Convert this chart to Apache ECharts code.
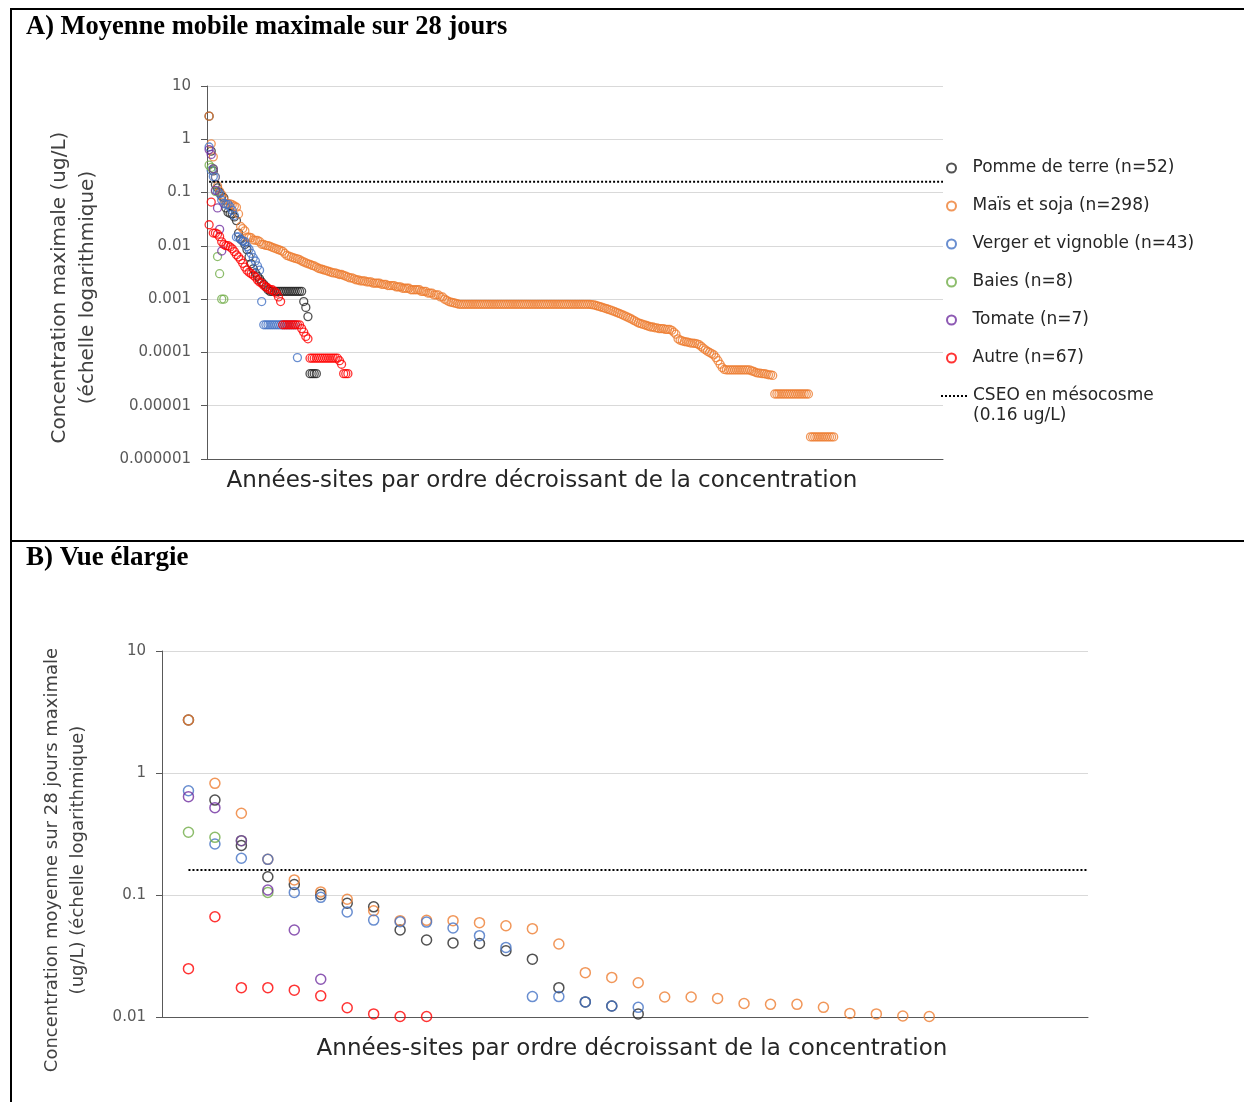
<!DOCTYPE html>
<html><head><meta charset="utf-8">
<script src="https://cdn.jsdelivr.net/npm/echarts@6/dist/echarts.min.js"></script>
<style>html,body{margin:0;padding:0;background:#fff}#c{width:1244px;height:1102px}</style>
</head><body><div id="c"></div>
<script>
// ---------- DATA ----------
const seriesNames = ['Pomme de terre (n=52)', 'Maïs et soja (n=298)', 'Verger et vignoble (n=43)', 'Baies (n=8)', 'Tomate (n=7)', 'Autre (n=67)'];
const cseoName = 'CSEO en mésocosme\n(0.16 ug/L)';
const cseoValue = 0.16;
const titleA = 'A) Moyenne mobile maximale sur 28 jours';
const titleB = 'B) Vue élargie';
const xTitle = 'Années-sites par ordre décroissant de la concentration';
const yTitleA = 'Concentration maximale (ug/L)\n(échelle logarithmique)';
const yTitleB = 'Concentration moyenne sur 28 jours maximale\n(ug/L) (échelle logarithmique)';
// tick labels, indexed by exponent + 6
const yTickLabels = ['0.000001', '0.00001', '0.0001', '0.001', '0.01', '0.1', '1', '10'];

const pommeDeTerre = [
  2.72, 0.6, 0.255, 0.141, 0.122, 0.101, 0.0855, 0.08, 0.0516, 0.0428,
  0.0405, 0.040, 0.0349, 0.0298, 0.0174, 0.0133, 0.0123, 0.0106, 0.0085, 0.0062,
  0.0046, 0.0037, 0.0031, 0.0027, 0.0024, 0.0021, 0.0019, 0.0017, 0.0015, 0.0014,
  0.0014, 0.0014, 0.0014, 0.0014, 0.0014, 0.0014, 0.0014, 0.0014, 0.0014, 0.0014,
  0.0014, 0.0014, 0.0014, 0.0014, 0.0014, 0.0009, 0.0007, 0.00047, 0.00004, 0.00004,
  0.00004, 0.00004
];
const maisSoja = [
  2.72, 0.823, 0.468, 0.196, 0.133, 0.106, 0.0923, 0.0743, 0.0616, 0.062,
  0.0616, 0.0593, 0.056, 0.053, 0.0397, 0.0231, 0.0211, 0.0191, 0.0146, 0.0146,
  0.0142, 0.0129, 0.0127, 0.0127, 0.012, 0.0107, 0.0106, 0.0102, 0.0101, 0.0098,
  0.0094, 0.0091, 0.0088, 0.0085, 0.0082, 0.0079, 0.0072, 0.0066, 0.0064, 0.0062,
  0.006, 0.0058, 0.0057, 0.0055, 0.0052, 0.005, 0.0048, 0.0046, 0.0045, 0.0043,
  0.0042, 0.004, 0.0038, 0.0037, 0.0036, 0.0035, 0.0034, 0.0033, 0.0032, 0.0031,
  0.0031, 0.003, 0.0029, 0.0029, 0.0028, 0.0027, 0.0026, 0.0025, 0.0025, 0.0024,
  0.0023, 0.0023, 0.0022, 0.0022, 0.0022, 0.0021, 0.0021, 0.0021, 0.002, 0.002,
  0.002, 0.002, 0.0019, 0.0019, 0.0019, 0.0018, 0.0018, 0.0018, 0.0018, 0.0017,
  0.0017, 0.0017, 0.0016, 0.0016, 0.0016, 0.0016, 0.0015, 0.0015, 0.0015, 0.0015,
  0.0015, 0.0014, 0.0014, 0.0014, 0.0013, 0.0013, 0.0013, 0.0012, 0.0012, 0.0012,
  0.0011, 0.0011, 0.001, 0.00095, 0.0009, 0.00088, 0.00086, 0.00084, 0.00082, 0.0008,
  0.0008, 0.0008, 0.0008, 0.0008, 0.0008, 0.0008, 0.0008, 0.0008, 0.0008, 0.0008,
  0.0008, 0.0008, 0.0008, 0.0008, 0.0008, 0.0008, 0.0008, 0.0008, 0.0008, 0.0008,
  0.0008, 0.0008, 0.0008, 0.0008, 0.0008, 0.0008, 0.0008, 0.0008, 0.0008, 0.0008,
  0.0008, 0.0008, 0.0008, 0.0008, 0.0008, 0.0008, 0.0008, 0.0008, 0.0008, 0.0008,
  0.0008, 0.0008, 0.0008, 0.0008, 0.0008, 0.0008, 0.0008, 0.0008, 0.0008, 0.0008,
  0.0008, 0.0008, 0.0008, 0.0008, 0.0008, 0.0008, 0.0008, 0.0008, 0.0008, 0.0008,
  0.0008, 0.0008, 0.00079, 0.00078, 0.00076, 0.00074, 0.00072, 0.0007, 0.00068, 0.00066,
  0.00064, 0.00062, 0.0006, 0.00058, 0.00056, 0.00054, 0.00052, 0.0005, 0.00048, 0.00046,
  0.00044, 0.00042, 0.0004, 0.00038, 0.00036, 0.00035, 0.00034, 0.00033, 0.00032, 0.00031,
  0.0003, 0.0003, 0.00029, 0.00029, 0.00028, 0.00028, 0.00028, 0.00027, 0.00027, 0.00027,
  0.00026, 0.00024, 0.00022, 0.00018, 0.00017, 0.000165, 0.00016, 0.000158, 0.000155, 0.00015,
  0.00015, 0.000148, 0.000145, 0.00014, 0.00013, 0.00012, 0.000112, 0.000105, 0.0001, 0.000095,
  0.00009, 0.00008, 0.00007, 0.00006, 0.000052, 0.000048, 0.000047, 0.000047, 0.000047, 0.000047,
  0.000047, 0.000047, 0.000047, 0.000047, 0.000047, 0.000047, 0.000047, 0.000047, 0.000045, 0.000044,
  0.000042, 0.000041, 0.000041, 0.00004, 0.00004, 0.000039, 0.000038, 0.000038, 0.000037, 0.0000166,
  0.0000166, 0.0000166, 0.0000166, 0.0000166, 0.0000166, 0.0000166, 0.0000166, 0.0000166, 0.0000166, 0.0000166,
  0.0000166, 0.0000166, 0.0000166, 0.0000166, 0.0000166, 0.0000166, 0.0000026, 0.0000026, 0.0000026, 0.0000026,
  0.0000026, 0.0000026, 0.0000026, 0.0000026, 0.0000026, 0.0000026, 0.0000026, 0.0000026
];
const vergerVignoble = [
  0.716, 0.262, 0.2, 0.196, 0.105, 0.0957, 0.0726, 0.0623, 0.0604, 0.06,
  0.0537, 0.0464, 0.0372, 0.0147, 0.0147, 0.0133, 0.0123, 0.012, 0.0097, 0.0086,
  0.0072, 0.006, 0.0052, 0.0042, 0.0035, 0.0009, 0.00033, 0.00033, 0.00033, 0.00033,
  0.00033, 0.00033, 0.00033, 0.00033, 0.00033, 0.00033, 0.00033, 0.00033, 0.00033, 0.00033,
  0.00033, 0.00033, 0.00008
];
const baies = [0.327, 0.297, 0.279, 0.105, 0.0063, 0.003, 0.001, 0.001];
const tomate = [0.64, 0.52, 0.279, 0.11, 0.0516, 0.0204, 0.008];
const autre = [
  0.0249, 0.0664, 0.0174, 0.0174, 0.0166, 0.0149, 0.0119, 0.0106, 0.0101, 0.0101,
  0.0095, 0.0088, 0.0078, 0.0068, 0.0062, 0.0055, 0.0047, 0.004, 0.0035, 0.0032,
  0.003, 0.0028, 0.0026, 0.0023, 0.0021, 0.002, 0.0018, 0.0017, 0.0016, 0.0015,
  0.0015, 0.0014, 0.0013, 0.0011, 0.0009, 0.00033, 0.00033, 0.00033, 0.00033, 0.00033,
  0.00033, 0.00033, 0.00033, 0.00033, 0.00028, 0.00024, 0.0002, 0.00018, 0.000078, 0.000078,
  0.000078, 0.000078, 0.000078, 0.000078, 0.000078, 0.000078, 0.000078, 0.000078, 0.000078, 0.000078,
  0.000078, 0.000078, 0.00007, 0.00006, 0.00004, 0.00004, 0.00004
];
const xMaxA = 350;
const xMaxB = 35;

// ---------- STYLE ----------
const colors = ['#262626', '#ED7D31', '#4472C4', '#70AD47', '#7030A0', '#FF0000'];
const groups = [pommeDeTerre, maisSoja, vergerVignoble, baies, tomate, autre];
const sans = 'DejaVu Sans';
const axisColor = '#595959';
const titleColor = '#404040';

function tickLabel(v) {
  const e = Math.round(Math.log10(v));
  return yTickLabels[e + 6] || '';
}

const series = [];
[0, 1].forEach(function (g) {
  groups.forEach(function (arr, k) {
    series.push({
      type: 'scatter', name: seriesNames[k], xAxisIndex: g, yAxisIndex: g,
      data: arr.map(function (v, i) { return [i + 1, v]; }),
      symbol: 'circle', symbolSize: g ? 10 : 8, clip: true,
      itemStyle: { color: 'rgba(255,255,255,0)', borderColor: colors[k], borderWidth: g ? 1.5 : 1.3 },
      emphasis: { disabled: true }
    });
  });
  series.push({
    type: 'line', name: cseoName, xAxisIndex: g, yAxisIndex: g,
    data: [[1, cseoValue], [g ? xMaxB : xMaxA, cseoValue]],
    symbol: 'none', showSymbol: false,
    itemStyle: { color: '#000' },
    lineStyle: { color: '#000', width: 2, type: 'dotted' },
    emphasis: { disabled: true }, z: 3
  });
});

function xAxis(g, max, gap, pad) {
  return {
    gridIndex: g, type: 'value', min: 0, max: max,
    axisLine: { show: true, onZero: false, lineStyle: { color: axisColor, width: 1 } },
    axisTick: { show: false }, axisLabel: { show: false }, splitLine: { show: false },
    name: xTitle, nameLocation: 'middle', nameGap: gap,
    nameTextStyle: { fontFamily: sans, fontSize: 23, lineHeight: 28, color: '#262626', padding: pad }
  };
}
function yAxis(g, min, name, gap, fs, lh, pad) {
  return {
    gridIndex: g, type: 'log', logBase: 10, min: min, max: 10,
    axisLine: { show: true, lineStyle: { color: axisColor, width: 1 } },
    axisTick: { show: true, length: 6, lineStyle: { color: axisColor } },
    axisLabel: { formatter: tickLabel, fontFamily: sans, fontSize: 15, color: axisColor, margin: 16 },
    splitLine: { show: true, lineStyle: { color: '#d9d9d9', width: 1 } },
    name: name, nameLocation: 'middle', nameRotate: 90, nameGap: gap,
    nameTextStyle: { fontFamily: sans, fontSize: fs, lineHeight: lh, color: titleColor, padding: pad }
  };
}

const option = {
  animation: false,
  backgroundColor: '#fff',
  title: [
    { text: titleA, left: 26, top: 14, padding: 0,
      textStyle: { fontFamily: 'Liberation Serif', fontWeight: 'bold', fontSize: 26.5, color: '#000' } },
    { text: titleB, left: 26, top: 545, padding: 0,
      textStyle: { fontFamily: 'Liberation Serif', fontWeight: 'bold', fontSize: 27, color: '#000' } }
  ],
  grid: [
    { left: 207, top: 86, width: 736, height: 373, containLabel: false },
    { left: 162, top: 651, width: 926, height: 366, containLabel: false }
  ],
  legend: [
    { data: seriesNames, orient: 'vertical', left: 946, top: 158, padding: 0,
      itemWidth: 32, itemHeight: 9, itemGap: 18, selectedMode: false,
      textStyle: { fontFamily: sans, fontSize: 17, lineHeight: 20, color: '#262626' } },
    { data: [cseoName], orient: 'vertical', left: 940, top: 366, padding: 0,
      itemWidth: 27, itemHeight: 14, selectedMode: false,
      formatter: function (name) { return '\n' + name; },
      itemStyle: { color: 'rgba(0,0,0,0)', borderWidth: 0, opacity: 0 },
      textStyle: { fontFamily: sans, fontSize: 17, lineHeight: 20, color: '#262626' } }
  ],
  xAxis: [xAxis(0, xMaxA, 8, [0, 66, 0, 0]), xAxis(1, xMaxB, 18, [0, 0, 0, 14])],
  yAxis: [
    yAxis(0, 0.000001, yTitleA, 105, 20, 28, [0, 30, 0, 0]),
    yAxis(1, 0.01, yTitleB, 71, 18, 26, [0, 52, 0, 0])
  ],
  graphic: [
    { type: 'line', shape: { x1: 10, y1: 9, x2: 1244, y2: 9 }, style: { stroke: '#000', lineWidth: 2 } },
    { type: 'line', shape: { x1: 11, y1: 8, x2: 11, y2: 1102 }, style: { stroke: '#000', lineWidth: 2 } },
    { type: 'line', shape: { x1: 10, y1: 541, x2: 1244, y2: 541 }, style: { stroke: '#000', lineWidth: 2 } }
  ],
  series: series
};
const chart = echarts.init(document.getElementById('c'), null, { renderer: 'canvas' });
chart.setOption(option);
</script></body></html>
